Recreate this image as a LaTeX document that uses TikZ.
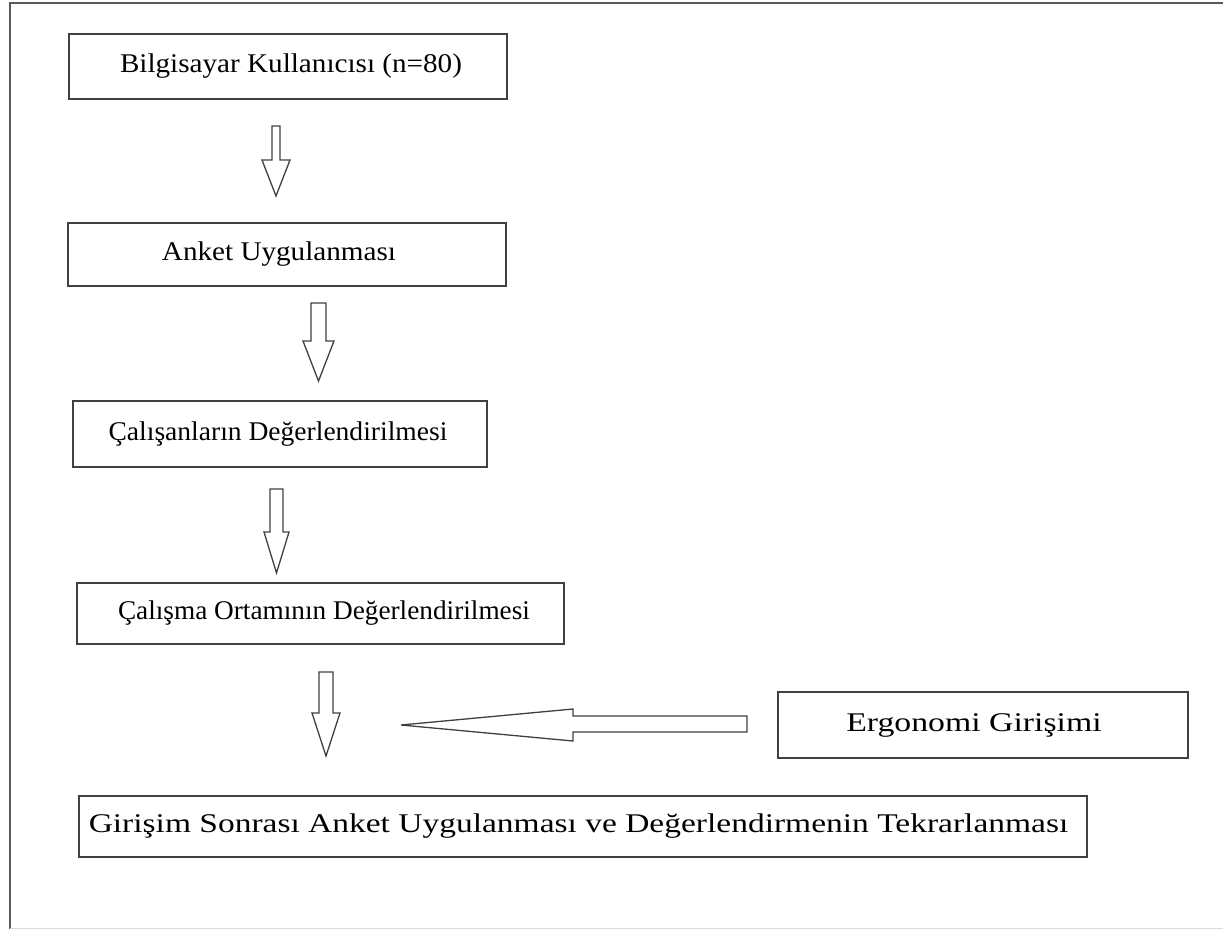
\documentclass[tikz,border=0pt]{standalone}
\usepackage{fontspec}
\setmainfont{Liberation Serif}

% block arrow pointing down: x, top, head start, tip, shaft half width, head half width
\newcommand{\asagiok}[6]{%
  \draw[okstil] (#1-#5,#2) -- (#1+#5,#2) -- (#1+#5,#3) -- (#1+#6,#3)
    -- (#1,#4) -- (#1-#6,#3) -- (#1-#5,#3) -- cycle;}
% text stretched sideways only
\newcommand{\genis}[2]{\scalebox{#1}[1]{#2}}

\begin{document}
\begin{tikzpicture}[x=1pt,y=-1pt,
    kutu/.style={draw=black!75,line width=1.4pt,inner sep=0pt,
      font=\fontsize{27}{30}\selectfont},
    okstil/.style={draw=black!75,line width=1.3pt,line join=miter}]

    \useasboundingbox (0,0) rectangle (1223,929);

    % outer frame
    \draw[black!65,line width=2pt] (9.5,929) -- (9.5,2.5) -- (1223,2.5);
    \draw[black!15,line width=1pt] (9.5,928.5) -- (1223,928.5);

    % these are the boxes
    \node[kutu,minimum width=438pt,minimum height=65pt] (kullanici) at (288,66.5) {\hspace*{6pt}\genis{1.08}{Bilgisayar Kullanıcısı (n=80)}};
    \node[kutu,minimum width=438pt,minimum height=63pt] (anket) at (287,254.5) {\hspace*{-16pt}\genis{1.08}{Anket Uygulanması}};
    \node[kutu,minimum width=414pt,minimum height=66pt] (calisan) at (280,434) {\hspace*{-4pt}\genis{1.02}{Çalışanların Değerlendirilmesi}};
    \node[kutu,minimum width=487pt,minimum height=61pt] (ortam) at (320.5,613.5) {\hspace*{7pt}\genis{1.01}{Çalışma Ortamının Değerlendirilmesi}};
    \node[kutu,minimum width=410pt,minimum height=66pt] (ergonomi) at (983,725) {\hspace*{-18pt}\genis{1.25}{Ergonomi Girişimi}};
    \node[kutu,minimum width=1008pt,minimum height=61pt] (tekrar) at (583,826.5) {\hspace*{-9pt}\genis{1.24}{Girişim Sonrası Anket Uygulanması ve Değerlendirmenin Tekrarlanması}};

    % these are the arrows
    \asagiok{276}{126}{160}{196}{4}{14}
    \asagiok{318.5}{303}{341}{381}{7.5}{15.5}
    \asagiok{276.5}{489}{532}{573}{6.5}{12.5}
    \asagiok{326}{672}{713}{756}{7}{14}
    \draw[okstil] (747,716) -- (747,732) -- (573,732) -- (573,741) -- (401,725)
      -- (573,709) -- (573,716) -- cycle;

\end{tikzpicture}
\end{document}
